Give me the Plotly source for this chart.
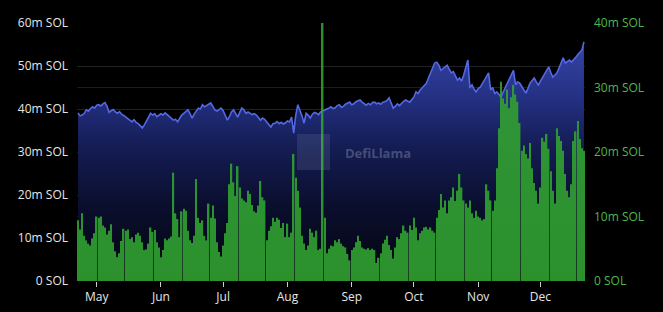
import plotly.graph_objects as go
import pandas as pd

start_date = "2023-04-22"

tvl_m = [
    39.1, 38.4, 38.6, 39.0, 39.8, 39.5, 40.1, 40.5, 40.2, 40.9,
    41.0, 40.7, 41.2, 41.5, 40.6, 39.2, 39.6, 39.9, 39.3, 39.0,
    39.4, 38.8, 38.5, 38.1, 37.8, 37.4, 37.0, 37.5, 36.9, 36.6,
    36.2, 35.6, 36.3, 37.1, 38.2, 39.0, 38.6, 38.9, 38.2, 38.5,
    38.9, 38.6, 39.1, 38.7, 38.3, 37.9, 37.4, 37.6, 37.0, 37.8,
    38.6, 39.0, 39.5, 39.8, 38.9, 37.9, 38.8, 39.6, 40.2, 40.0,
    41.0, 40.5, 40.8, 41.2, 41.4, 40.6, 39.8, 39.5, 39.9, 40.2,
    39.6, 38.6, 37.4, 38.2, 39.3, 39.8, 39.0, 38.1, 39.2, 40.2,
    39.8, 39.0, 39.3, 39.0, 38.7, 38.9, 38.6, 38.0, 37.4, 37.9,
    37.6, 37.0, 36.5, 35.8, 36.6, 36.7, 37.1, 36.6, 36.9, 36.5,
    36.8, 37.2, 37.0, 38.1, 34.4, 38.5, 41.0, 39.8, 38.4, 36.7,
    39.0, 38.6, 37.9, 38.8, 39.2, 39.0, 38.7, 39.3, 39.6, 39.8,
    40.0, 40.2, 40.5, 40.1, 40.3, 40.8, 41.0, 40.4, 40.6, 41.1,
    41.3, 41.6, 41.0, 41.2, 41.7, 41.9, 42.1, 41.6, 41.2, 40.9,
    41.3, 41.0, 41.5, 41.6, 41.2, 41.4, 41.1, 41.6, 41.7, 42.0,
    42.6, 41.5, 40.2, 40.6, 41.2, 40.8, 41.4, 41.8, 42.1, 41.8,
    41.6, 42.2, 42.8, 44.0, 43.6, 44.4, 44.9, 45.3, 46.0, 47.2,
    48.4, 49.6, 50.7, 50.9, 50.2, 49.0, 49.4, 49.9, 50.2, 49.3,
    48.4, 48.7, 47.6, 46.7, 47.2, 46.5, 47.9, 49.5, 51.4, 44.9,
    45.6, 44.6, 44.0, 44.8, 45.1, 45.9, 46.7, 47.5, 48.4, 44.4,
    45.0, 43.6, 44.0, 43.4, 42.8, 43.9, 44.9, 45.8, 47.0, 48.1,
    49.0, 45.6, 46.3, 46.0, 45.2, 44.6, 43.7, 44.8, 46.0, 46.6,
    47.2, 46.3, 45.6, 46.5, 47.4, 48.2, 49.0, 49.8, 48.5, 47.4,
    47.9, 48.4, 49.6, 50.8, 51.9, 50.7, 51.1, 51.4, 50.9, 51.6,
    52.0, 52.6, 53.1, 53.7, 55.6,
]

volume_m = [
    9.4, 8.0, 10.5, 7.0, 6.3, 5.8, 5.5, 6.6, 7.4, 10.0,
    9.8, 10.0, 8.6, 8.3, 7.2, 7.8, 8.8, 6.0, 4.6, 3.7,
    4.3, 6.2, 8.1, 7.8, 8.0, 6.5, 6.8, 6.0, 7.2, 7.5,
    7.0, 6.0, 4.8, 4.9, 5.8, 8.3, 7.6, 7.9, 6.0, 5.2,
    3.7, 4.8, 6.6, 6.3, 6.6, 6.9, 16.8, 10.5, 9.6, 6.8,
    10.8, 11.2, 10.9, 7.8, 6.3, 5.9, 7.0, 15.8, 9.8, 9.0,
    9.4, 7.0, 6.3, 12.0, 9.8, 11.7, 9.7, 6.0, 4.5, 3.8,
    5.5, 7.4, 9.0, 15.0, 18.2, 15.3, 13.2, 17.8, 14.5, 12.8,
    12.5, 12.2, 14.0, 13.5, 11.8, 10.8, 10.6, 11.7, 15.5, 13.0,
    12.5, 6.3, 7.8, 8.5, 9.8, 9.2, 9.8, 9.5, 8.2, 9.0,
    6.8, 8.9, 6.8, 7.5, 19.7, 16.0, 14.0, 11.4, 7.0, 5.8,
    4.8, 5.5, 8.1, 7.5, 6.8, 7.8, 4.8, 5.0, 40.0, 9.8,
    4.3, 5.0, 5.5, 5.4, 6.3, 6.0, 6.5, 5.8, 5.4, 5.2,
    4.2, 3.2, 4.8, 5.2, 6.0, 7.0, 6.2, 5.2, 5.0, 4.9,
    5.1, 4.8, 5.0, 4.8, 2.8, 3.6, 4.3, 5.8, 6.4, 7.0,
    5.6, 4.8, 3.5, 5.2, 6.8, 6.5, 7.4, 8.6, 7.8, 7.5,
    8.6, 7.9, 9.8, 8.3, 6.3, 7.4, 7.8, 8.3, 8.4, 8.0,
    8.3, 7.8, 7.5, 9.8, 11.0, 13.5, 11.4, 12.5, 10.5, 12.5,
    13.0, 14.5, 12.4, 14.0, 16.6, 14.5, 12.5, 12.0, 11.4, 12.5,
    10.5, 9.8, 10.9, 10.0, 9.8, 9.4, 9.6, 15.0, 14.0, 12.5,
    10.9, 12.5, 17.5, 23.7, 30.9, 28.3, 27.5, 29.7, 26.8, 28.5,
    30.4, 28.9, 27.8, 24.5, 20.2, 21.0, 19.7, 19.0, 21.4, 17.5,
    15.2, 14.0, 12.0, 14.5, 22.2, 21.6, 22.8, 20.5, 17.0, 14.0,
    12.0, 23.7, 22.5, 21.7, 20.2, 16.6, 14.0, 13.0, 15.0, 21.7,
    23.2, 24.8, 22.0, 20.6, 20.2,
]

left_ticks = [0, 10, 20, 30, 40, 50, 60]
left_tick_text = ["0 SOL", "10m SOL", "20m SOL", "30m SOL", "40m SOL", "50m SOL", "60m SOL"]
right_ticks = [0, 10, 20, 30, 40]
right_tick_text = ["0 SOL", "10m SOL", "20m SOL", "30m SOL", "40m SOL"]

dates = pd.date_range(start_date, periods=len(tvl_m), freq="D")

fig = go.Figure()

fig.add_trace(go.Scatter(
    x=dates, y=tvl_m, mode="lines",
    line=dict(color="#5468e4", width=1.6),
    fill="tozeroy",
    fillgradient=dict(type="vertical", start=0, stop=56,
                      colorscale=[[0, "#04060f"], [0.3, "#0a0e2c"], [0.55, "#141c52"],
                                  [0.75, "#232f80"], [1, "#3646a8"]]),
    yaxis="y", hoverinfo="skip", showlegend=False,
))

fig.add_trace(go.Bar(
    x=dates, y=volume_m,
    marker=dict(color="#31a131", line=dict(width=0)),
    opacity=0.9,
    yaxis="y2", hoverinfo="skip", showlegend=False,
))

font_family = "Open Sans, Noto Sans, sans-serif"

fig.update_layout(
    width=663, height=312,
    margin=dict(l=77, r=78, t=23, b=31, autoexpand=False),
    paper_bgcolor="#000000", plot_bgcolor="#000000",
    bargap=0.3,
    font=dict(family=font_family, size=12, color="#e6e6e6"),
    xaxis=dict(
        type="date", automargin=False,
        range=["2023-04-21 12:00", "2023-12-22 12:00"],
        tick0="2023-05-01", dtick="M1", tickformat="%b",
        ticks="outside", ticklen=5, tickcolor="#cccccc", tickwidth=1,
        showgrid=False, zeroline=False, showline=False,
        tickfont=dict(color="#e6e6e6", size=12),
    ),
    yaxis=dict(
        range=[0, 60], tickvals=left_ticks, ticktext=left_tick_text,
        automargin=False,
        showgrid=True, gridcolor="#222222", gridwidth=1,
        zeroline=False, showline=False, ticks="", ticklabelstandoff=8,
        tickfont=dict(color="#e6e6e6", size=12),
    ),
    yaxis2=dict(
        range=[0, 40], tickvals=right_ticks, ticktext=right_tick_text,
        overlaying="y", side="right", automargin=False,
        showgrid=True, gridcolor="#1c1c1c", gridwidth=1,
        zeroline=False, showline=False, ticks="", ticklabelstandoff=8,
        tickfont=dict(color="#4cb84c", size=12),
    ),
)

# DefiLlama watermark
fig.add_shape(type="rect", xref="paper", yref="paper",
              x0=(297 - 77) / 508, x1=(330 - 77) / 508,
              y0=(281 - 170) / 258, y1=(281 - 134) / 258,
              fillcolor="rgba(150,160,190,0.16)", line=dict(width=0), layer="above")
fig.add_annotation(text="<b>DefiLlama</b>", xref="paper", yref="paper",
                   x=(378 - 77) / 508, y=(281 - 153) / 258, showarrow=False,
                   font=dict(size=13, color="rgba(150,160,190,0.4)", family=font_family))

fig.write_html("out.html")
